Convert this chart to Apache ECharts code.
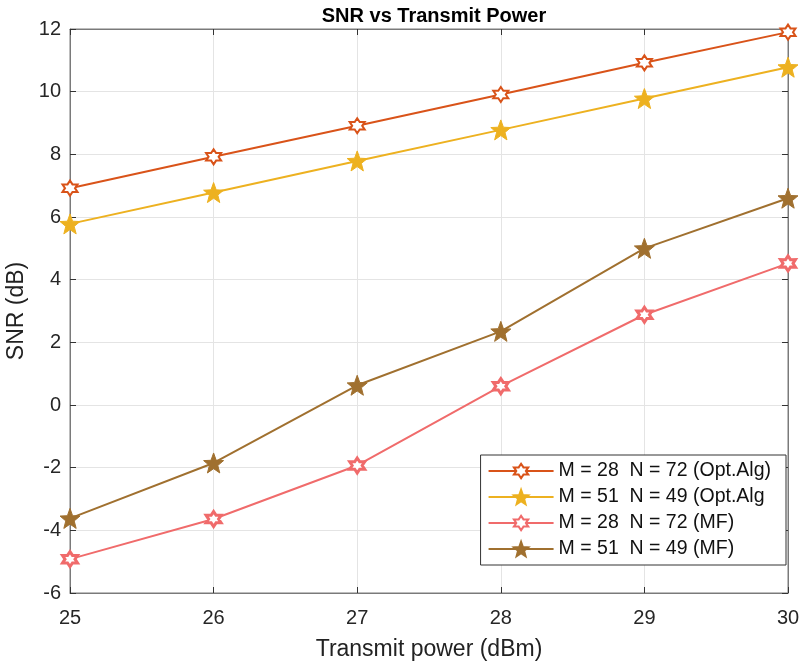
<html>
<head>
<meta charset="utf-8">
<script src="https://cdnjs.cloudflare.com/ajax/libs/echarts/6.0.0/echarts.min.js"></script>
<style>
  html, body { margin: 0; padding: 0; background: #fff; }
  #container { width: 803px; height: 669px; }
</style>
</head>
<body>
<div id="container"></div>
<script type="text/javascript">
var power = [25, 26, 27, 28, 29, 30];
var optAlg28 = [6.92, 7.92, 8.91, 9.91, 10.92, 11.9];
var optAlg51 = [5.78, 6.78, 7.79, 8.78, 9.78, 10.78];
var mf28 = [-4.92, -3.64, -1.93, 0.6, 2.88, 4.52];
var mf51 = [-3.62, -1.85, 0.63, 2.35, 5.0, 6.6];
var seriesNames = ['M = 28  N = 72 (Opt.Alg)', 'M = 51  N = 49 (Opt.Alg', 'M = 28  N = 72 (MF)', 'M = 51  N = 49 (MF)'];

// star shaped marker path (n points, inner radius ratio r)
function starPath(n, r) {
    var pts = [];
    for (var k = 0; k < 2 * n; k++) {
        var a = -Math.PI / 2 + k * Math.PI / n;
        var rad = (k % 2 == 0) ? 1 : r;
        pts.push((50 + 50 * rad * Math.cos(a)).toFixed(2) + ' ' + (50 + 50 * rad * Math.sin(a)).toFixed(2));
    }
    return 'path://M' + pts.join(' L') + ' Z';
}
var hexagram = starPath(6, 0.577);
var pentagram = starPath(5, 0.42);

function pairs(vals) {
    return power.map(function (p, i) { return [p, vals[i]]; });
}

var font = 'Liberation Sans, Arial, sans-serif';
var dom = document.getElementById('container');
var myChart = echarts.init(dom, null, { renderer: 'canvas' });

var option = {
    animation: false,
    title: {
        text: 'SNR vs Transmit Power',
        left: 429, top: 1, textAlign: 'center',
        textStyle: { fontFamily: font, fontSize: 20, fontWeight: 'bold', color: '#000' }
    },
    grid: { left: 70, right: 15, top: 29, bottom: 76, outerBoundsMode: 'none', containLabel: false,
        show: true, borderColor: '#7a7a7a', borderWidth: 1 },
    legend: {
        orient: 'vertical', right: 17, top: 455,
        itemWidth: 65, itemHeight: 18, itemGap: 6,
        padding: [6, 15, 6, 7],
        borderColor: '#333', borderWidth: 1, backgroundColor: '#fff',
        textStyle: { fontFamily: font, fontSize: 19.5, color: '#111' },
        data: seriesNames
    },
    xAxis: [{
        type: 'value', min: 25, max: 30, interval: 1,
        name: 'Transmit power (dBm)', nameLocation: 'middle', nameGap: 45,
        nameTextStyle: { fontFamily: font, fontSize: 23, color: '#222' },
        axisLine: { onZero: false, lineStyle: { color: '#7a7a7a' } },
        axisTick: { inside: true, length: 6, lineStyle: { color: '#333' } },
        axisLabel: { fontFamily: font, fontSize: 20, color: '#262626', margin: 15 },
        splitLine: { lineStyle: { color: '#e4e4e4' } }
    }, {
        type: 'value', min: 25, max: 30, interval: 1, position: 'top',
        axisLine: { onZero: false, lineStyle: { color: '#7a7a7a' } },
        axisTick: { inside: true, length: 6, lineStyle: { color: '#333' } },
        axisLabel: { show: false }, splitLine: { show: false }
    }],
    yAxis: [{
        type: 'value', min: -6, max: 12, interval: 2,
        name: 'SNR (dB)', nameLocation: 'middle', nameGap: 37,
        nameTextStyle: { fontFamily: font, fontSize: 23, color: '#222' },
        axisLine: { show: true, onZero: false, lineStyle: { color: '#7a7a7a' } },
        axisTick: { show: true, inside: true, length: 6, lineStyle: { color: '#333' } },
        axisLabel: { fontFamily: font, fontSize: 20, color: '#262626', margin: 9 },
        splitLine: { lineStyle: { color: '#e4e4e4' } }
    }, {
        type: 'value', min: -6, max: 12, interval: 2, position: 'right',
        axisLine: { show: true, onZero: false, lineStyle: { color: '#7a7a7a' } },
        axisTick: { show: true, inside: true, length: 6, lineStyle: { color: '#333' } },
        axisLabel: { show: false }, splitLine: { show: false }
    }],
    series: [{
        name: seriesNames[0], type: 'line', data: pairs(optAlg28),
        symbol: hexagram, symbolSize: 15,
        lineStyle: { color: '#D95319', width: 2 },
        itemStyle: { color: '#fff', borderColor: '#D95319', borderWidth: 2 }
    }, {
        name: seriesNames[1], type: 'line', data: pairs(optAlg51),
        symbol: pentagram, symbolSize: 20,
        lineStyle: { color: '#EDB120', width: 2 },
        itemStyle: { color: '#EDB120', borderColor: '#EDB120', borderWidth: 1 }
    }, {
        name: seriesNames[2], type: 'line', data: pairs(mf28),
        symbol: hexagram, symbolSize: 15,
        lineStyle: { color: '#F06B6B', width: 2 },
        itemStyle: { color: '#fff', borderColor: '#F06B6B', borderWidth: 3 }
    }, {
        name: seriesNames[3], type: 'line', data: pairs(mf51),
        symbol: pentagram, symbolSize: 20,
        lineStyle: { color: '#A0702F', width: 2 },
        itemStyle: { color: '#A0702F', borderColor: '#A0702F', borderWidth: 1 }
    }]
};
myChart.setOption(option);
window.addEventListener('resize', myChart.resize);
</script>
</body>
</html>
